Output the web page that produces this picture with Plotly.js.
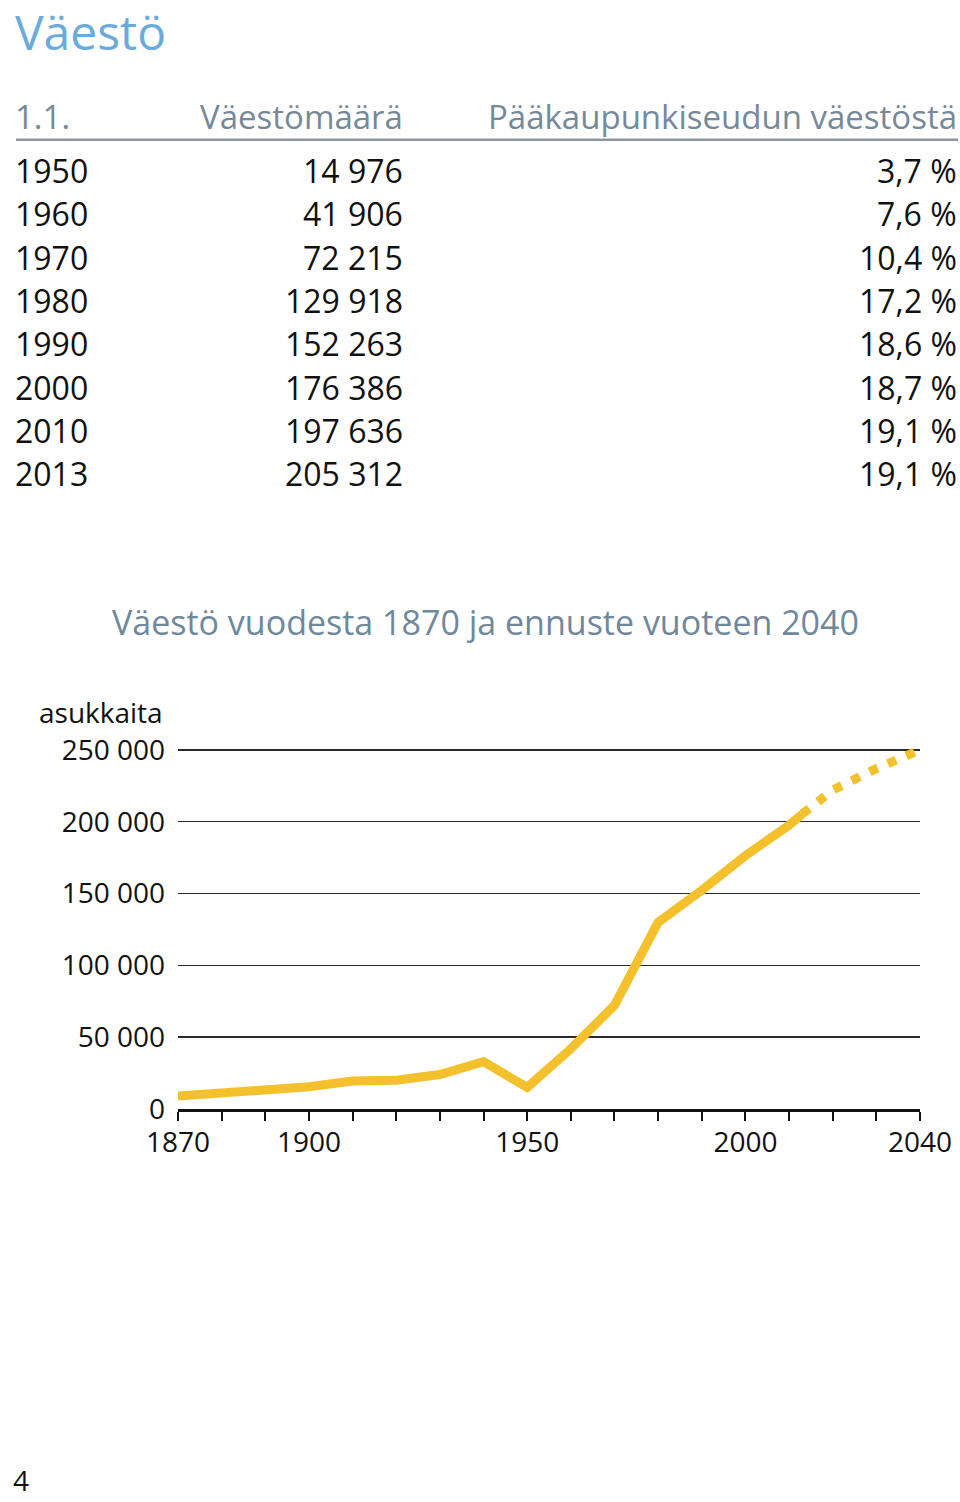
<!DOCTYPE html>
<html><head><meta charset="utf-8">
<script src="https://cdn.plot.ly/plotly-3.0.1.min.js"></script>
<style>html,body{margin:0;padding:0;background:#fff;}#chart{width:960px;height:1502px;}</style>
</head><body><div id="chart"></div>
<script>
// ---- Table data ----
const tableYears = ['1950','1960','1970','1980','1990','2000','2010','2013'];
const tablePopulation = ['14 976','41 906','72 215','129 918','152 263','176 386','197 636','205 312'];
const tableShare = ['3,7 %','7,6 %','10,4 %','17,2 %','18,6 %','18,7 %','19,1 %','19,1 %'];
const tableHeaders = ['1.1.','Väestömäärä','Pääkaupunkiseudun väestöstä'];

// ---- Chart data ----
const histYears = [1870,1880,1890,1900,1910,1920,1930,1940,1950,1960,1970,1980,1990,2000,2010,2013];
const histPop   = [9000,11000,13000,15500,19500,20000,24000,33000,14976,41906,72215,129918,152263,176386,197636,205312];
const forecastYears = [2013,2020,2030,2040];
const forecastPop   = [205312,222000,237000,250000];
const yTickVals = [0,50000,100000,150000,200000,250000];
const yTickText = ['0','50 000','100 000','150 000','200 000','250 000'];
const xTickVals = [1870,1880,1890,1900,1910,1920,1930,1940,1950,1960,1970,1980,1990,2000,2010,2020,2030,2040];
const xLabelled = [1870,1900,1950,2000,2040];

const pageTitle = 'Väestö';
const chartTitle = 'Väestö vuodesta 1870 ja ennuste vuoteen 2040';
const yUnit = 'asukkaita';
const pageNumber = '4';

// ---- geometry helpers (pixel -> paper) ----
const YMAX = 252000;
const L = 178, R = 920, B = 1109, T = B - 359 * YMAX / 250000;
const px = x => (x - L) / (R - L);
const py = y => (B - y) / (B - T);

const FONT = 'Open Sans, Noto Sans, sans-serif';
const yellow = '#f4c12c';
const annotations = [];
function txt(text, x, y, anchor, size, color){
  annotations.push({text:text, xref:'paper', yref:'paper', x:px(x), y:py(y),
    xanchor:anchor, yanchor:'middle', showarrow:false, borderpad:0,
    font:{family:FONT, size:size, color:color}});
}
txt(pageTitle, 14, 32, 'left', 48, '#6aabd9');
txt(tableHeaders[0], 14, 117, 'left', 33, '#75899a');
txt(tableHeaders[1], 404, 117, 'right', 33, '#75899a');
txt(tableHeaders[2], 958, 117, 'right', 33, '#75899a');
const rowY0 = 171, rowStep = 43.3;
tableYears.forEach((yr, i) => {
  const y = rowY0 + i * rowStep;
  txt(yr, 14, y, 'left', 32, '#111');
  txt(tablePopulation[i], 404, y, 'right', 32, '#111');
  txt(tableShare[i], 958, y, 'right', 32, '#111');
});
txt(chartTitle, 485, 622, 'center', 34, '#6f889b');
txt(yUnit, 164, 712, 'right', 28, '#111');
txt(pageNumber, 12, 1480, 'left', 28, '#111');

const traces = [
  {x:histYears, y:histPop, type:'scatter', mode:'lines', cliponaxis:false,
   line:{color:yellow, width:9, shape:'linear'}, hoverinfo:'skip'},
  {x:forecastYears, y:forecastPop, type:'scatter', mode:'lines', cliponaxis:false,
   line:{color:yellow, width:9, dash:'9px,11px'}, hoverinfo:'skip'}
];

const layout = {
  width:960, height:1502,
  margin:{l:L, r:960-R, t:T, b:1502-B, pad:0},
  paper_bgcolor:'#fff', plot_bgcolor:'#fff',
  showlegend:false,
  font:{family:FONT, color:'#111'},
  xaxis:{range:[1870,2040], tickvals:xTickVals,
    ticktext:xTickVals.map(v => xLabelled.includes(v) ? String(v) : ''),
    ticks:'outside', ticklen:9, tickwidth:2, tickcolor:'#111', ticklabelstandoff:-3,
    showline:true, linecolor:'#111', linewidth:3, showgrid:false, zeroline:false,
    tickfont:{family:FONT, size:28, color:'#111'}, fixedrange:true},
  yaxis:{range:[0,YMAX], tickvals:yTickVals, ticktext:yTickText,
    showgrid:true, gridcolor:'#2a2a2a', gridwidth:1.5, zeroline:false, showline:false,
    ticks:'', ticklabelstandoff:12,
    tickfont:{family:FONT, size:28, color:'#111'}, fixedrange:true},
  shapes:[{type:'line', xref:'paper', yref:'paper', x0:px(16), x1:px(958), y0:py(140), y1:py(140),
    line:{color:'#8b969f', width:2.5}}],
  annotations:annotations
};
Plotly.newPlot('chart', traces, layout, {staticPlot:true, displayModeBar:false});
</script></body></html>
